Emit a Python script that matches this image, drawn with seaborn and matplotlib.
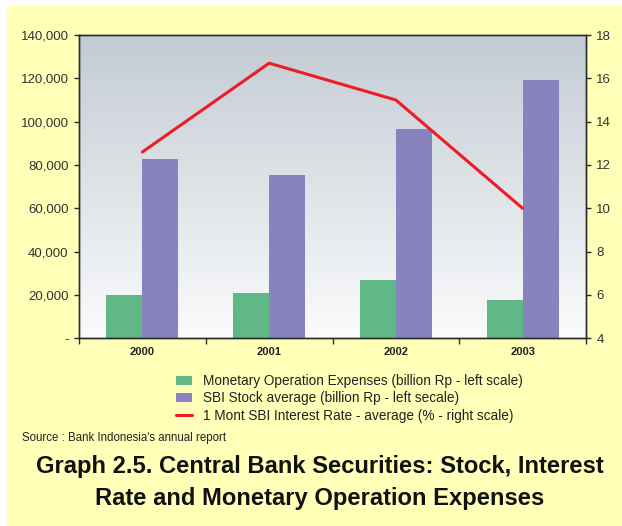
import matplotlib
matplotlib.use("Agg")
import matplotlib.pyplot as plt
import seaborn as sns
import numpy as np
import pandas as pd
from matplotlib.patches import Patch, Rectangle
from matplotlib.lines import Line2D
from matplotlib.colors import LinearSegmentedColormap

# ---- data ----
years = ["2000", "2001", "2002", "2003"]
expenses = [20100, 21000, 27000, 17800]          # Monetary Operation Expenses (billion Rp)
sbi_stock = [82800, 75400, 96600, 119200]        # SBI Stock average (billion Rp)
sbi_rate = [12.6, 16.7, 15.0, 10.0]              # 1 Month SBI Interest Rate (%)
left_ticks = [0, 20000, 40000, 60000, 80000, 100000, 120000, 140000]
left_labels = ["-", "20,000", "40,000", "60,000", "80,000", "100,000", "120,000", "140,000"]
right_ticks = [4, 6, 8, 10, 12, 14, 16, 18]
series_names = ["Monetary Operation Expenses (billion Rp - left scale)",
                "SBI Stock average (billion Rp - left secale)",
                "1 Mont SBI Interest Rate - average (% - right scale)"]
source_text = "Source : Bank Indonesia's annual report"
title_lines = ["Graph 2.5. Central Bank Securities: Stock, Interest",
               "Rate and Monetary Operation Expenses"]

GREEN = "#60B886"
PURPLE = "#8882BD"
RED = "#EE1C25"
YELLOW = "#FFFFB8"
AXC = "#2b2b2b"

sns.set_theme(style="white")
plt.rcParams['font.family'] = ['Liberation Sans', 'DejaVu Sans']

W, H = 622, 526
fig = plt.figure(figsize=(W / 100, H / 100), dpi=100)
fig.patch.set_facecolor("white")
fig.patches.append(Rectangle((7 / W, 0), 1 - 7 / W, 1 - 6 / H, transform=fig.transFigure,
                             facecolor=YELLOW, edgecolor="none", zorder=-10))

L, R, T, B = 79, 586, 35, 338.3
ax = fig.add_axes([L / W, 1 - B / H, (R - L) / W, (B - T) / H])
ax.set_facecolor("none")

df = pd.DataFrame({
    "year": years * 2,
    "value": expenses + sbi_stock,
    "series": [series_names[0]] * 4 + [series_names[1]] * 4,
})
sns.barplot(data=df, x="year", y="value", hue="series", order=years,
            hue_order=series_names[:2],
            palette={series_names[0]: GREEN, series_names[1]: PURPLE},
            width=0.57, gap=0, saturation=1, legend=False, ax=ax, zorder=2,
            edgecolor="none", linewidth=0)

# gradient background of plot area
grad = np.linspace(0, 1, 256).reshape(-1, 1)
cmap = LinearSegmentedColormap.from_list("bg", ["#FAFBFC", "#C3CBD3"])
ax.imshow(grad, extent=[0, 1, 0, 1], transform=ax.transAxes, aspect="auto",
          cmap=cmap, origin="lower", zorder=0, interpolation="bilinear")

ax.set_xlim(-0.5, 3.5)
ax.set_ylim(0, 140000)
ax.set_yticks(left_ticks)
ax.set_yticklabels(left_labels)
ax.set_xticks([-0.5, 0.5, 1.5, 2.5, 3.5])
ax.set_xticklabels([""] * 5)
ax.set_xticks([0, 1, 2, 3], minor=True)
ax.set_xticklabels(years, minor=True, fontsize=8, fontweight="bold", color="#222222")
ax.tick_params(axis="x", which="major", bottom=True, direction="out", length=4,
               width=1, color=AXC)
ax.tick_params(axis="x", which="minor", bottom=True, length=0, pad=6)
ax.tick_params(axis="y", left=True, direction="out", length=3.5, width=1, color=AXC,
               pad=4, labelsize=9.5, labelcolor="#333333")
ax.set_xlabel("")
ax.set_ylabel("")
for s in ax.spines.values():
    s.set_visible(True)
    s.set_color(AXC)
    s.set_linewidth(1)

ax2 = ax.twinx()
sns.lineplot(x=np.arange(len(years)), y=sbi_rate, ax=ax2, color=RED, linewidth=2.2)
ax2.set_ylim(4, 18)
ax2.set_xlim(-0.5, 3.5)
ax2.set_yticks(right_ticks)
ax2.set_yticklabels([str(t) for t in right_ticks])
ax2.tick_params(axis="y", right=True, direction="out", length=3.5, width=1, color=AXC,
                pad=4, labelsize=9.5, labelcolor="#333333")
ax2.set_ylabel("")
for s in ax2.spines.values():
    s.set_visible(True)
    s.set_color(AXC)
    s.set_linewidth(1)

# legend
handles = [Patch(facecolor=GREEN, edgecolor="none"),
           Patch(facecolor=PURPLE, edgecolor="none"),
           Line2D([0], [0], color=RED, lw=2.2)]
fig.legend(handles, series_names, loc="upper left",
           bbox_to_anchor=(176 / W, 1 - 374 / H), frameon=False, fontsize=9.8,
           handlelength=1.2, handleheight=0.65, handletextpad=0.75,
           labelspacing=0.25, borderpad=0, borderaxespad=0, labelcolor="#222222")

fig.text(22 / W, 1 - 438 / H, source_text, fontsize=8.3, color="#222222",
         va="center", ha="left")
fig.text(320 / W, 1 - 467 / H, title_lines[0], fontsize=17.1, fontweight="bold",
         color="#111111", ha="center", va="center")
fig.text(320 / W, 1 - 498 / H, title_lines[1], fontsize=17.1, fontweight="bold",
         color="#111111", ha="center", va="center")

fig.savefig("out.png", dpi=100)
